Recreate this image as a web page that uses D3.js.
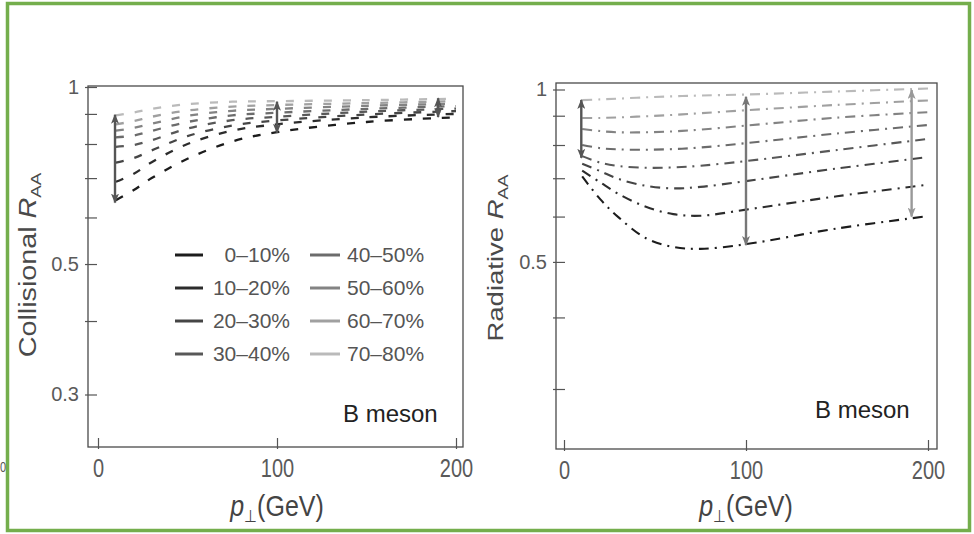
<!DOCTYPE html>
<html lang="en">
<head>
<meta charset="UTF-8">
<title>B meson R_AA</title>
<script src="https://d3js.org/d3.v7.min.js"></script>
<style>
  body { margin: 0; background: #fff; }
  svg { display: block; font-family: "Liberation Sans", Arial, sans-serif; }
</style>
</head>
<body>
<svg width="974" height="534"></svg>
<script>
// centrality classes, darkest = most central
const centralities = ["0–10%", "10–20%", "20–30%", "30–40%", "40–50%", "50–60%", "60–70%", "70–80%"];
const shades = ["#1c1c1c", "#2c2c2c", "#454545", "#585858", "#6c6c6c", "#838383", "#a0a0a0", "#bababa"];

// collisional R_AA, one row per centrality
const collisionalPt = [10, 20, 30, 50, 75, 100, 150, 200];
const collisional = [
  [0.642, 0.668, 0.700, 0.755, 0.808, 0.838, 0.872, 0.888],
  [0.690, 0.712, 0.745, 0.800, 0.843, 0.864, 0.888, 0.900],
  [0.744, 0.757, 0.780, 0.825, 0.860, 0.877, 0.898, 0.910],
  [0.791, 0.797, 0.812, 0.850, 0.878, 0.890, 0.908, 0.919],
  [0.821, 0.827, 0.842, 0.872, 0.895, 0.904, 0.918, 0.928],
  [0.843, 0.852, 0.866, 0.893, 0.911, 0.918, 0.929, 0.937],
  [0.864, 0.875, 0.890, 0.912, 0.926, 0.932, 0.939, 0.946],
  [0.895, 0.905, 0.918, 0.935, 0.944, 0.946, 0.950, 0.955]
];

// radiative R_AA
const radiativePt = [10, 20, 30, 45, 60, 75, 100, 150, 200];
const radiative = [
  [0.705, 0.643, 0.598, 0.550, 0.531, 0.527, 0.537, 0.572, 0.601],
  [0.722, 0.688, 0.657, 0.624, 0.606, 0.602, 0.617, 0.651, 0.682],
  [0.742, 0.720, 0.698, 0.679, 0.672, 0.676, 0.692, 0.728, 0.762],
  [0.765, 0.745, 0.735, 0.730, 0.731, 0.736, 0.750, 0.784, 0.820],
  [0.800, 0.790, 0.786, 0.785, 0.787, 0.792, 0.806, 0.838, 0.867],
  [0.853, 0.846, 0.842, 0.842, 0.845, 0.851, 0.865, 0.893, 0.913],
  [0.892, 0.892, 0.894, 0.898, 0.903, 0.909, 0.920, 0.940, 0.957],
  [0.958, 0.961, 0.964, 0.969, 0.973, 0.976, 0.980, 0.992, 1.004]
];

// spread arrows: pT, low end, high end
const collisionalArrows = [
  { pt: 9.5, lo: 0.636, hi: 0.897 },
  { pt: 100, lo: 0.836, hi: 0.944 },
  { pt: 190, lo: 0.889, hi: 0.957 }
];
const radiativeArrows = [
  { pt: 9.5, lo: 0.760, hi: 0.959 },
  { pt: 100, lo: 0.535, hi: 0.971 },
  { pt: 191, lo: 0.600, hi: 0.998 }
];

const yTicks = [1, 0.9, 0.8, 0.7, 0.6, 0.5, 0.4, 0.3];
const xTicks = [0, 100, 200];

const svg = d3.select("svg");

// green border around the figure
svg.append("rect")
  .attr("x", 7.5).attr("y", 3.5)
  .attr("width", 962).attr("height", 527)
  .attr("fill", "none")
  .attr("stroke", "#74ae4c")
  .attr("stroke-width", 3.5);

// tick label left over from a neighbouring plot
svg.append("text")
  .attr("transform", "translate(0,472) scale(1,1.3)")
  .attr("font-size", 11).attr("fill", "#555")
  .text("0");

const defs = svg.append("defs");
function marker(id, color) {
  defs.append("marker")
    .attr("id", id)
    .attr("viewBox", "0 0 10 8")
    .attr("refX", 9).attr("refY", 4)
    .attr("markerWidth", 10).attr("markerHeight", 8)
    .attr("markerUnits", "userSpaceOnUse")
    .attr("orient", "auto-start-reverse")
    .append("path")
    .attr("d", "M0,0 L10,4 L0,8 L2.5,4 Z")
    .attr("fill", color);
}

function panel(cfg) {
  const x = d3.scaleLinear().domain([0, 200]).range(cfg.xRange);
  const y = d3.scaleLog().domain([0.3, 1]).range(cfg.yRange);
  const g = svg.append("g");

  g.append("rect")
    .attr("x", cfg.frame[0]).attr("y", cfg.frame[1])
    .attr("width", cfg.frame[2] - cfg.frame[0])
    .attr("height", cfg.frame[3] - cfg.frame[1])
    .attr("fill", "none").attr("stroke", "#4a4a4a").attr("stroke-width", 1.3);

  // y axis, ticks point inward
  const ya = g.append("g")
    .attr("transform", `translate(${cfg.frame[0]},0)`)
    .call(d3.axisLeft(y).tickValues(yTicks).tickSizeInner(-9).tickSizeOuter(0).tickPadding(9)
      .tickFormat(d => cfg.yLabels.includes(d) ? d : ""));
  ya.select(".domain").remove();
  ya.selectAll("line").attr("x1", -3).attr("stroke", "#555").attr("stroke-width", 1.2);
  ya.selectAll("text").attr("font-size", 20).attr("fill", "#5a5a5a").attr("font-family", null);

  // x axis
  const xa = g.append("g")
    .attr("transform", `translate(0,${cfg.frame[3]})`)
    .call(d3.axisBottom(x).tickValues(xTicks).tickSizeInner(-9).tickSizeOuter(0));
  xa.select(".domain").remove();
  xa.selectAll("line").attr("y1", 2).attr("stroke", "#555").attr("stroke-width", 1.2);
  xa.selectAll("text")
    .attr("y", null).attr("dy", null)
    .attr("transform", "translate(0,30) scale(1,1.25)")
    .attr("font-size", 20).attr("fill", "#5a5a5a").attr("font-family", null);

  // curves
  const line = d3.line()
    .x((d, i) => x(cfg.pt[i]))
    .y(d => y(d))
    .curve(d3.curveCatmullRom);
  g.selectAll("path.curve")
    .data(cfg.values)
    .join("path")
    .attr("class", "curve")
    .attr("d", line)
    .attr("fill", "none")
    .attr("stroke", (d, i) => shades[i])
    .attr("stroke-width", cfg.lineWidth)
    .attr("stroke-dasharray", cfg.dash);

  // double arrows
  cfg.arrows.forEach((a, i) => {
    const id = `${cfg.name}-arrow-${i}`;
    marker(id, a.color);
    g.append("line")
      .attr("x1", x(a.pt)).attr("x2", x(a.pt))
      .attr("y1", y(a.lo)).attr("y2", y(a.hi))
      .attr("stroke", a.color).attr("stroke-width", 2.4)
      .attr("marker-start", `url(#${id})`)
      .attr("marker-end", `url(#${id})`);
  });

  g.append("text")
    .attr("x", cfg.tag[0]).attr("y", cfg.tag[1])
    .attr("font-size", 24).attr("fill", "#222")
    .text("B meson");

  // x title
  const xt = g.append("text")
    .attr("transform", `translate(${(cfg.xRange[0] + cfg.xRange[1]) / 2},516) scale(1,1.15)`)
    .attr("text-anchor", "middle")
    .attr("font-size", 25).attr("fill", "#444");
  xt.append("tspan").attr("font-style", "italic").text("p");
  xt.append("tspan").attr("font-size", 15).attr("dy", 5).text("⊥");
  xt.append("tspan").attr("dy", -5).text("(GeV)");

  // y title
  const yt = g.append("text")
    .attr("transform", `translate(${cfg.yTitle[0]},${cfg.yTitle[1]}) rotate(-90) scale(1.25,1)`)
    .attr("text-anchor", "middle")
    .attr("font-size", cfg.titleSize).attr("fill", "#4a4a4a");
  yt.append("tspan").text(cfg.title + " ");
  yt.append("tspan").attr("font-style", "italic").text("R");
  yt.append("tspan").attr("font-size", 15).attr("dy", 5).text("AA");

  return { x, y, g };
}

const left = panel({
  name: "coll",
  frame: [88, 86, 463, 447],
  xRange: [98, 456],
  yRange: [394.5, 87],
  yLabels: [1, 0.5, 0.3],
  pt: collisionalPt,
  values: collisional,
  lineWidth: 2.3,
  dash: "8,11",
  arrows: collisionalArrows.map(a => ({ ...a, color: "#555" })),
  tag: [343, 422],
  title: "Collisional",
  titleSize: 23,
  yTitle: [36, 265]
});

panel({
  name: "rad",
  frame: [556, 83, 937, 449],
  xRange: [564, 928],
  yRange: [389, 89.5],
  yLabels: [1, 0.5],
  pt: radiativePt,
  values: radiative,
  lineWidth: 2.1,
  dash: "10,6,2,6",
  arrows: radiativeArrows.map((a, i) => ({ ...a, color: ["#555", "#777", "#999"][i] })),
  tag: [815, 418],
  title: "Radiative",
  titleSize: 22,
  yTitle: [503, 258]
});

// legend inside the collisional panel
const rowsY = [255, 288, 321, 354];
const legend = left.g.append("g");
centralities.forEach((c, i) => {
  const col = i < 4 ? 0 : 1;
  const yy = rowsY[i % 4];
  const lx = col === 0 ? [175, 203] : [310, 340];
  legend.append("line")
    .attr("x1", lx[0]).attr("x2", lx[1])
    .attr("y1", yy).attr("y2", yy)
    .attr("stroke", shades[i]).attr("stroke-width", 3);
  legend.append("text")
    .attr("x", col === 0 ? 290 : 347)
    .attr("y", yy + 7)
    .attr("text-anchor", col === 0 ? "end" : "start")
    .attr("font-size", 21).attr("fill", "#555")
    .text(c);
});
</script>
</body>
</html>
